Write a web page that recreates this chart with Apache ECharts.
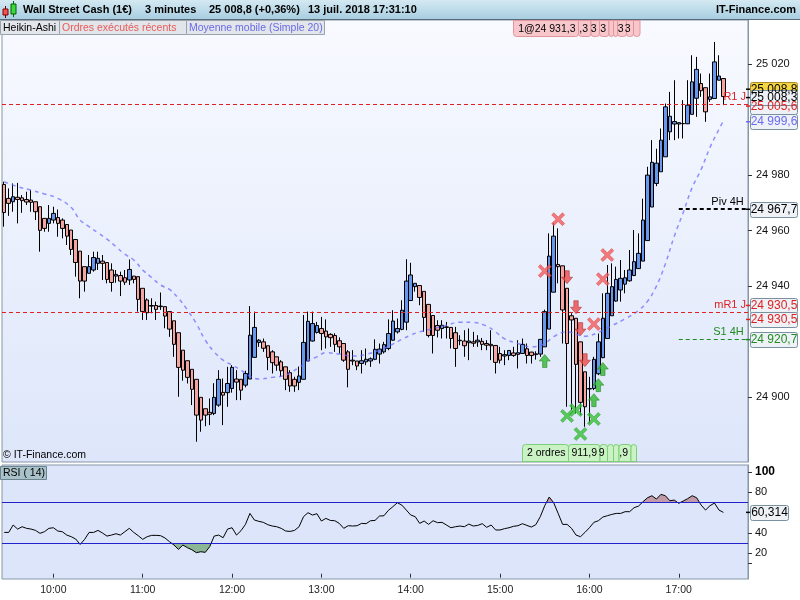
<!DOCTYPE html>
<html>
<head>
<meta charset="utf-8">
<script src="https://cdn.jsdelivr.net/npm/echarts@6/dist/echarts.min.js"></script>
<style>
html,body{margin:0;padding:0;background:#fff}
#chart{width:800px;height:600px}
</style>
</head>
<body>
<div id="chart"></div>
<script>
// 3 minute bars, 09:27 -> 17:45 (last 5 slots empty)
var times = [
'09:27','09:30','09:33','09:36','09:39','09:42','09:45','09:48','09:51','09:54','09:57',
'10:00','10:03','10:06','10:09','10:12','10:15','10:18','10:21','10:24','10:27','10:30','10:33','10:36','10:39','10:42','10:45','10:48','10:51','10:54','10:57',
'11:00','11:03','11:06','11:09','11:12','11:15','11:18','11:21','11:24','11:27','11:30','11:33','11:36','11:39','11:42','11:45','11:48','11:51','11:54','11:57',
'12:00','12:03','12:06','12:09','12:12','12:15','12:18','12:21','12:24','12:27','12:30','12:33','12:36','12:39','12:42','12:45','12:48','12:51','12:54','12:57',
'13:00','13:03','13:06','13:09','13:12','13:15','13:18','13:21','13:24','13:27','13:30','13:33','13:36','13:39','13:42','13:45','13:48','13:51','13:54','13:57',
'14:00','14:03','14:06','14:09','14:12','14:15','14:18','14:21','14:24','14:27','14:30','14:33','14:36','14:39','14:42','14:45','14:48','14:51','14:54','14:57',
'15:00','15:03','15:06','15:09','15:12','15:15','15:18','15:21','15:24','15:27','15:30','15:33','15:36','15:39','15:42','15:45','15:48','15:51','15:54','15:57',
'16:00','16:03','16:06','16:09','16:12','16:15','16:18','16:21','16:24','16:27','16:30','16:33','16:36','16:39','16:42','16:45','16:48','16:51','16:54','16:57',
'17:00','17:03','17:06','17:09','17:12','17:15','17:18','17:21','17:24','17:27','17:30','17:33','17:36','17:39','17:42','17:45'
];

// heikin-ashi [open, close, low, high]
var candles = [
[24976.6,24966.5,24961.4,24977.6],[24971.6,24969.8,24965.3,24975.2],[24970.4,24972.2,24966.8,24977.0],[24972.0,24971.2,24962.6,24977.2],
[24971.8,24970.8,24966.4,24972.8],[24971.2,24970.3,24969.2,24974.0],[24971.0,24970.2,24966.8,24974.6],[24970.4,24966.8,24963.8,24970.4],
[24968.6,24960.1,24952.4,24968.6],[24964.4,24960.8,24959.6,24964.4],[24962.6,24964.4,24959.6,24969.2],[24963.8,24966.2,24962.6,24968.6],
[24964.7,24962.6,24957.8,24967.6],[24963.8,24960.8,24957.2,24964.4],[24962.2,24958.0,24954.8,24962.2],[24960.2,24953.2,24951.2,24960.2],
[24956.8,24948.5,24943.4,24956.8],[24952.6,24941.8,24935.6,24952.6],[24947.0,24941.8,24938.0,24947.0],[24944.6,24947.0,24944.6,24951.2],
[24945.8,24950.3,24945.2,24952.4],[24948.2,24950.0,24945.8,24952.4],[24949.0,24948.2,24942.2,24951.2],[24948.5,24942.4,24941.0,24948.5],
[24945.8,24941.3,24938.0,24948.2],[24943.6,24944.2,24941.2,24945.8],[24943.8,24941.8,24936.4,24945.2],[24943.0,24941.4,24940.4,24945.8],
[24942.2,24946.0,24940.4,24949.6],[24943.6,24942.4,24941.0,24943.6],[24943.4,24935.2,24930.8,24943.4],[24939.2,24930.8,24927.8,24939.2],
[24935.0,24930.4,24927.8,24935.6],[24933.0,24932.8,24930.2,24935.6],[24933.0,24931.6,24927.8,24934.4],[24932.6,24932.8,24931.4,24937.7],
[24932.6,24929.2,24924.8,24932.6],[24930.8,24924.5,24921.7,24930.8],[24927.5,24919.0,24914.5,24927.5],[24923.2,24910.7,24900.1,24923.2],
[24916.9,24909.7,24905.9,24916.9],[24913.1,24907.1,24904.9,24913.1],[24910.0,24902.8,24897.1,24910.0],[24906.4,24893.5,24883.9,24906.4],
[24899.9,24891.7,24887.5,24899.9],[24895.8,24893.5,24889.5,24895.8],[24894.5,24893.8,24889.9,24899.5],[24894.1,24899.9,24893.5,24905.0],
[24897.1,24906.4,24896.5,24909.7],[24901.7,24900.7,24889.9,24906.7],[24901.6,24904.9,24896.5,24910.9],[24903.1,24910.7,24901.6,24911.5],
[24906.5,24905.4,24898.9,24909.7],[24906.4,24902.5,24898.9,24906.4],[24904.3,24908.5,24903.5,24909.5],[24906.5,24922.3,24906.5,24932.8],
[24914.3,24925.1,24914.3,24930.8],[24919.7,24920.5,24918.1,24920.9],[24919.9,24917.6,24916.3,24921.1],[24918.5,24914.3,24909.7,24918.5],
[24916.3,24912.4,24908.5,24916.9],[24914.5,24911.5,24909.5,24914.5],[24912.7,24909.5,24907.3,24913.3],[24910.9,24906.4,24902.5,24910.9],
[24908.8,24904.0,24901.9,24909.7],[24906.4,24904.0,24901.9,24907.3],[24905.3,24907.6,24902.5,24911.0],[24906.4,24919.7,24906.4,24929.6],
[24913.0,24927.3,24913.0,24930.8],[24920.2,24926.5,24920.0,24930.8],[24923.3,24925.8,24922.9,24927.1],[24924.7,24922.9,24916.9,24928.9],
[24923.8,24921.7,24917.5,24928.0],[24922.6,24921.4,24918.1,24923.0],[24922.2,24919.0,24916.3,24923.0],[24920.3,24918.1,24915.7,24921.5],
[24919.3,24913.3,24912.7,24919.3],[24916.3,24910.0,24903.5,24916.9],[24913.3,24913.0,24911.5,24916.9],[24913.0,24911.2,24909.7,24913.0],
[24912.1,24913.1,24908.5,24916.9],[24912.7,24913.6,24911.5,24917.5],[24913.0,24913.8,24910.9,24914.3],[24913.6,24917.2,24913.3,24920.8],
[24915.5,24917.3,24912.1,24919.3],[24916.3,24918.9,24915.7,24919.9],[24917.5,24922.9,24916.9,24928.0],[24920.5,24927.4,24920.3,24931.3],
[24923.5,24924.7,24922.9,24928.3],[24924.4,24931.3,24924.1,24934.9],[24927.0,24941.8,24924.1,24949.7],[24934.8,24944.0,24934.8,24948.4],
[24939.8,24941.0,24938.0,24941.0],[24940.2,24935.9,24933.1,24940.2],[24938.1,24928.7,24923.5,24938.1],[24933.4,24922.2,24921.5,24933.4],
[24929.4,24922.2,24915.7,24929.4],[24925.8,24924.1,24921.5,24927.7],[24924.7,24925.9,24921.1,24927.7],[24925.3,24925.1,24921.1,24927.1],
[24925.1,24921.1,24917.5,24925.1],[24923.2,24917.5,24910.9,24925.3],[24920.5,24920.3,24918.7,24922.3],[24920.2,24918.5,24914.5,24924.1],
[24919.6,24920.2,24913.3,24924.7],[24919.9,24919.4,24918.1,24923.5],[24919.9,24920.5,24918.1,24922.3],[24920.1,24919.0,24916.9,24921.3],
[24919.3,24918.7,24916.9,24920.5],[24919.0,24918.5,24913.3,24924.1],[24918.6,24912.5,24908.5,24918.6],[24915.7,24913.3,24912.1,24918.1],
[24914.8,24915.3,24911.5,24916.9],[24915.0,24916.8,24913.3,24916.9],[24915.9,24915.0,24914.5,24918.1],[24915.4,24916.0,24910.3,24920.5],
[24915.7,24919.0,24915.7,24921.1],[24917.4,24915.0,24912.1,24919.3],[24916.2,24915.0,24912.1,24916.3],[24915.6,24915.3,24913.5,24916.5],
[24915.5,24920.8,24914.5,24920.8],[24918.1,24930.8,24918.1,24931.5],[24924.5,24950.8,24924.5,24959.0],[24937.8,24958.0,24937.8,24962.8],
[24947.8,24947.0,24941.0,24960.8],[24947.3,24931.4,24919.3,24947.3],[24939.2,24919.3,24896.5,24939.2],[24929.3,24927.8,24895.3,24930.2],
[24928.4,24911.8,24894.1,24928.4],[24919.9,24898.1,24893.5,24919.9],[24909.1,24896.5,24889.3,24909.1],[24903.1,24902.9,24890.5,24907.3],
[24903.1,24913.6,24902.5,24914.5],[24908.4,24919.9,24907.9,24922.9],[24914.2,24928.4,24914.0,24937.4],[24921.1,24937.4,24921.1,24947.6],
[24929.3,24939.8,24929.3,24948.2],[24934.6,24942.4,24934.4,24947.0],[24938.6,24942.8,24934.4,24949.4],[24940.7,24943.0,24937.4,24945.8],
[24941.9,24945.8,24941.6,24953.0],[24943.8,24948.8,24943.6,24960.2],[24946.3,24951.8,24946.3,24959.0],[24949.0,24963.8,24949.0,24971.5],
[24956.4,24980.0,24956.4,24983.0],[24968.5,24984.6,24968.5,24992.6],[24977.0,24984.3,24976.0,24989.5],[24981.2,24992.6,24981.2,24996.8],
[24986.6,25004.6,24986.6,25005.8],[24995.6,25001.2,24992.6,25010.0],[24998.4,24999.3,24992.6,25014.2],[24998.4,24998.9,24993.2,24999.0],
[24998.6,24998.5,24993.2,25007.0],[24998.5,25005.2,24998.4,25014.2],[25001.9,25013.6,25001.9,25023.2],[25007.7,25018.1,25001.0,25022.6],
[25013.0,25010.4,25008.2,25016.6],[25011.5,25002.8,24999.2,25011.5],[25007.3,25008.2,25006.4,25016.6],[25007.6,25020.8,25007.6,25028.0],
[25014.2,25015.7,25014.2,25023.2],[25014.8,25008.3,25005.2,25014.8]
];

// moving average (simple 20), read at these bar positions
var maIdx = [0,3,6,9,12,15,17,19,21,23,25,27,29,31,33,35,37,39,41,43,45,47,49,51,53,55,57,60,63,66,68,70,72,75,78,81,84,87,89,91,93,96,99,102,105,108,110,112,115,118,121,123,126,130,133,136,139,142,144,146,148,150,152,154,156,158,160,161];
var maVal = [24977.6,24975.8,24974.6,24973.2,24971.6,24968.3,24963.8,24961.4,24959.2,24956.9,24954.2,24951.5,24949.4,24945.8,24943.1,24940.4,24938.8,24935.6,24931.4,24926.5,24920.5,24916.3,24913.3,24911.5,24909.7,24907.5,24906.5,24907.1,24907.9,24910.7,24913.1,24914.5,24916.0,24915.5,24914.8,24915.4,24916.9,24919.1,24920.8,24922.3,24923.5,24924.7,24925.9,24927.0,24926.9,24925.6,24923.5,24921.0,24919.3,24918.1,24919.3,24921.8,24923.5,24921.9,24923.3,24925.7,24928.2,24931.2,24934.5,24940.0,24948.0,24958.0,24966.5,24975.5,24982.0,24990.0,24996.5,24999.6];

// RSI (14), one value per bar
var rsi = [
40.6,40.6,47.9,43.9,46.2,44.6,43.9,42.6,39.7,41.3,44.6,45.2,42.0,41.3,38.0,36.4,34.1,28.8,33.8,40.6,
40.6,42.6,40.0,37.0,38.0,39.3,38.0,41.3,44.6,40.6,37.4,33.8,36.4,37.7,37.7,37.4,35.1,31.5,28.2,23.9,
28.2,25.6,23.6,20.7,21.6,21.0,26.6,37.0,38.0,35.4,43.9,45.2,38.0,42.3,48.5,59.3,52.8,51.5,50.5,48.2,
46.9,46.2,44.6,42.0,41.6,42.6,46.2,56.1,60.0,57.7,59.0,51.8,54.4,52.4,52.1,49.5,44.6,47.2,46.9,47.2,
49.5,49.2,52.1,52.4,56.7,57.0,62.3,65.9,69.8,67.5,62.6,57.7,56.1,49.5,51.8,48.5,52.1,50.2,50.5,47.9,
45.2,46.2,46.9,46.2,48.8,46.9,47.5,49.2,45.6,47.9,43.0,43.0,44.3,45.2,46.6,47.2,49.2,47.5,45.9,48.2,
56.1,66.9,75.4,69.8,59.3,48.5,48.5,44.6,38.0,36.4,40.6,45.2,50.5,52.1,55.7,57.0,58.3,59.3,59.3,61.0,
61.0,64.9,66.5,70.8,74.7,76.7,73.4,78.0,76.7,71.8,72.4,69.2,71.5,73.8,76.7,74.7,67.5,62.6,66.9,69.5,
62.6,60.3
];

// executed orders
var redCrossIdx = [121,124,132,134,135];
var redCrossPrice = [24945.4,24964.1,24926.3,24942.5,24951.2];
var greenCrossIdx = [126,128,129,132];
var greenCrossPrice = [24893.2,24895.3,24886.7,24892.1];
var sellArrowIdx = [126,128,129,130];
var sellArrowPrice = [24943.2,24932.4,24924.5,24913.3];
var buyArrowIdx = [121,132,133,134];
var buyArrowPrice = [24913.0,24898.9,24904.3,24910.1];

// levels
var levelNames = ['R1 J','mR1 J','Piv 4H','S1 4H'];
var levelValues = [25005.6,24930.5,24967.7,24920.7];
var levelColors = ['#e02020','#e02020','#000000','#1f8a1f'];
var levelStart = 151;

var priceTicks = [24900,24940,24960,24980,25020];
var rsiTickValues = [10,20,40,60,80,100];
var rsiLabelValues = [20,40,80,100];
var rsiBands = [30,70];
var lastPrice = 25008.8;
var lastHa = 25008.3;
var lastMa = 24999.6;
var lastRsi = 60.314;

var FONT = 'Liberation Sans, Arial, sans-serif';

function fmtPrice(v, dec) {
    var s = v.toFixed(dec).split('.');
    var ip = s[0].replace(/\B(?=(\d{3})+(?!\d))/g, ' ');
    return s.length > 1 ? ip + ',' + s[1] : ip;
}
function pairs(idx, vals) {
    return idx.map(function (k, j) { return [k, vals[j]]; });
}

var xSymbol = 'path://M0,2 L2,0 L6,4 L10,0 L12,2 L8,6 L12,10 L10,12 L6,8 L2,12 L0,10 L4,6 Z';
var downSymbol = 'path://M3,0 L7,0 L7,6 L10,6 L5,12 L0,6 L3,6 Z';
var upSymbol = 'path://M3,12 L7,12 L7,6 L10,6 L5,0 L0,6 L3,6 Z';

var levelLines = [];
for (var k = 0; k < levelNames.length; k++) {
    var ls = {color: levelColors[k], type: [4, 3], width: levelNames[k] == 'Piv 4H' ? 2 : 1};
    var lb = {show: true, position: 'insideEndTop', formatter: levelNames[k], color: levelColors[k],
        fontFamily: FONT, fontSize: 11, distance: 2};
    if (levelNames[k].indexOf('J') > 0) {
        levelLines.push({yAxis: levelValues[k], lineStyle: ls, label: lb});
    } else {
        levelLines.push([{coord: [levelStart, levelValues[k]], lineStyle: ls, label: lb},
            {coord: [times.length - 1, levelValues[k]]}]);
    }
}

var chart = echarts.init(document.getElementById('chart'));
chart.setOption({
    animation: false,
    textStyle: {fontFamily: FONT},
    grid: [
        {left: 2, right: 52, top: 20, height: 442, show: true, borderColor: '#8797a5', borderWidth: 1,
            backgroundColor: new echarts.graphic.LinearGradient(0, 0, 0, 1, [
                {offset: 0, color: '#f8faff'}, {offset: 1, color: '#dde6fa'}])},
        {left: 2, right: 52, top: 465, height: 114, show: true, borderColor: '#8797a5', borderWidth: 1,
            backgroundColor: '#dce5f9'}
    ],
    xAxis: [
        {type: 'category', gridIndex: 0, data: times, show: false},
        {type: 'category', gridIndex: 1, data: times,
            axisLine: {show: false},
            axisTick: {show: true, alignWithLabel: true, length: 4, lineStyle: {color: '#333'},
                interval: function (i, v) { return v.slice(3) == '00'; }},
            axisLabel: {color: '#222', fontSize: 10.5, margin: 6, fontFamily: FONT,
                interval: function (i, v) { return v.slice(3) == '00'; }},
            splitLine: {show: false}}
    ],
    yAxis: [
        {type: 'value', gridIndex: 0, position: 'right', min: 24876.6, max: 25035.9,
            axisLine: {show: true, lineStyle: {color: '#8797a5'}},
            axisTick: {show: true, length: 4, customValues: priceTicks, lineStyle: {color: '#333'}},
            axisLabel: {customValues: priceTicks, color: '#111', fontSize: 11, margin: 8, fontFamily: FONT,
                formatter: function (v) { return fmtPrice(v, 0); }},
            splitLine: {show: false}},
        {type: 'value', gridIndex: 1, position: 'right', min: -5.2, max: 106.9,
            axisLine: {show: true, lineStyle: {color: '#8797a5'}},
            axisTick: {show: true, length: 4, customValues: rsiTickValues, lineStyle: {color: '#333'}},
            axisLabel: {customValues: rsiLabelValues, color: '#111', fontSize: 11, margin: 7, fontFamily: FONT,
                formatter: function (v) { return v == 100 ? '{b|100}' : String(v); },
                rich: {b: {fontWeight: 'bold', fontSize: 12, fontFamily: FONT, color: '#000'}}},
            splitLine: {show: false}}
    ],
    series: [
        {type: 'candlestick', xAxisIndex: 0, yAxisIndex: 0, data: candles, barWidth: 4,
            itemStyle: {color: '#6898ee', color0: '#f5a5a1', borderColor: '#000', borderColor0: '#000',
                borderColorDoji: '#000', borderWidth: 1},
            markLine: {silent: true, symbol: ['none', 'none'], data: levelLines}},
        {type: 'line', xAxisIndex: 0, yAxisIndex: 0, data: pairs(maIdx, maVal), smooth: 0.4,
            symbol: 'none', lineStyle: {color: 'rgba(110,110,255,0.75)', width: 1.5, type: [4, 4]}, z: 3},
        {type: 'scatter', xAxisIndex: 0, yAxisIndex: 0, data: pairs(redCrossIdx, redCrossPrice),
            symbol: xSymbol, symbolSize: 13, itemStyle: {color: '#f25a5a', borderColor: '#d84040', borderWidth: 0.6}, z: 5},
        {type: 'scatter', xAxisIndex: 0, yAxisIndex: 0, data: pairs(greenCrossIdx, greenCrossPrice),
            symbol: xSymbol, symbolSize: 13, itemStyle: {color: '#36c236', borderColor: '#239623', borderWidth: 0.6}, z: 5},
        {type: 'scatter', xAxisIndex: 0, yAxisIndex: 0, data: pairs(sellArrowIdx, sellArrowPrice),
            symbol: downSymbol, symbolSize: [11, 13], itemStyle: {color: '#ec4a4a', borderColor: '#a02020', borderWidth: 0.6}, z: 5},
        {type: 'scatter', xAxisIndex: 0, yAxisIndex: 0, data: pairs(buyArrowIdx, buyArrowPrice),
            symbol: upSymbol, symbolSize: [11, 13], itemStyle: {color: '#2fb82f', borderColor: '#1a7a1a', borderWidth: 0.6}, z: 5},
        {type: 'line', xAxisIndex: 1, yAxisIndex: 1, data: rsi, symbol: 'none', silent: true,
            lineStyle: {width: 0, opacity: 0}, areaStyle: {origin: rsiBands[0], opacity: 1, color: 'rgba(0,0,0,0)'}},
        {type: 'line', xAxisIndex: 1, yAxisIndex: 1, data: rsi, symbol: 'none', silent: true,
            lineStyle: {width: 0, opacity: 0}, areaStyle: {origin: rsiBands[1], opacity: 1, color: 'rgba(0,0,0,0)'}},
        {type: 'line', xAxisIndex: 1, yAxisIndex: 1, data: rsi, symbol: 'none', z: 4,
            lineStyle: {color: '#000', width: 1},
            markLine: {silent: true, symbol: ['none', 'none'], label: {show: false},
                lineStyle: {color: '#2222cc', type: 'solid', width: 1},
                data: [{yAxis: rsiBands[0]}, {yAxis: rsiBands[1]}]}}
    ]
});

// RSI zones: fill only the part beyond the 30 / 70 bands
var y30 = chart.convertToPixel({yAxisIndex: 1}, rsiBands[0]);
var y70 = chart.convertToPixel({yAxisIndex: 1}, rsiBands[1]);
var lowFill = new echarts.graphic.LinearGradient(0, y30, 0, y30 + 0.5, [
    {offset: 0, color: 'rgba(0,0,0,0)'}, {offset: 1, color: '#8db697'}], true);
var highFill = new echarts.graphic.LinearGradient(0, y70 - 0.5, 0, y70, [
    {offset: 0, color: '#c29ba8'}, {offset: 1, color: 'rgba(0,0,0,0)'}], true);

// overlay: header, tabs, order tags and price boxes
function rect(x, y, w, h, fill, stroke, r, z) {
    return {type: 'rect', shape: {x: x, y: y, width: w, height: h, r: r || 0}, z: z || 10,
        style: {fill: fill, stroke: stroke, lineWidth: 1}};
}
function text(x, y, s, color, font, align, z) {
    return {type: 'text', x: x, y: y, z: z || 11,
        style: {text: s, fill: color, font: font, align: align || 'left', textAlign: align || 'left',
            verticalAlign: 'middle', textVerticalAlign: 'middle'}};
}

var g = [];
g.push({type: 'rect', shape: {x: 0, y: 0, width: 800, height: 20}, z: 10,
    style: {fill: new echarts.graphic.LinearGradient(0, 0, 0, 1, [
        {offset: 0, color: '#d4e9f2'}, {offset: 1, color: '#a6cde0'}])}});
g.push({type: 'line', shape: {x1: 0, y1: 19.5, x2: 800, y2: 19.5}, z: 11, style: {stroke: '#5a6a78', lineWidth: 1}});
g.push({type: 'line', shape: {x1: 5.5, y1: 6, x2: 5.5, y2: 18}, z: 11, style: {stroke: '#600', lineWidth: 1}});
g.push(rect(3, 9, 5, 6, '#ee5555', '#800000', 0, 12));
g.push({type: 'line', shape: {x1: 13.5, y1: 1, x2: 13.5, y2: 17}, z: 11, style: {stroke: '#060', lineWidth: 1}});
g.push(rect(11, 4, 5, 10, '#3ed83e', '#006000', 0, 12));
var hb = 'bold 11px ' + FONT;
g.push(text(23, 10, 'Wall Street Cash (1\u20ac)', '#000', hb));
g.push(text(145, 10, '3 minutes', '#000', hb));
g.push(text(209, 10, fmtPrice(lastPrice, 1) + ' (+0,36%)', '#000', hb));
g.push(text(308, 10, '13 juil. 2018 17:31:10', '#000', hb));
g.push(text(796, 10, 'IT-Finance.com', '#000', hb, 'right'));

var tf = '10.5px ' + FONT;
g.push(rect(0.5, 20.5, 59, 14, '#e2e5e9', '#9aa4ad'));
g.push(text(3, 28, 'Heikin-Ashi', '#000', tf));
g.push(rect(59.5, 20.5, 127, 14, '#e2e5e9', '#9aa4ad'));
g.push(text(62, 28, 'Ordres ex\u00e9cut\u00e9s r\u00e9cents', '#e85a5a', tf));
g.push(rect(186.5, 20.5, 138, 14, '#e2e5e9', '#9aa4ad'));
g.push(text(189, 28, 'Moyenne mobile (Simple 20)', '#6a6ae8', tf));

// stacked order tags
var topEdges = [513.5, 578.5, 591, 599.5, 609, 613.5, 617.5, 626.5, 633.5, 640];
var topTexts = ['1@24 931,3', ',3', '3', '3', '', '', '3', '3', ''];
for (var t = 0; t < topTexts.length; t++) {
    g.push(rect(topEdges[t], 20.5, topEdges[t + 1] - topEdges[t], 16, '#f7c7cc', '#e2959d', [0, 0, 3, 3]));
    if (topTexts[t]) g.push(text(topEdges[t + 1] - 3, 29, topTexts[t], '#000', tf, 'right'));
}
var botEdges = [522.5, 568.5, 600, 607.5, 613.5, 619, 631, 636.5];
var botTexts = ['2 ordres', '911,9', '9', '', '', ',9', ''];
for (var t = 0; t < botTexts.length; t++) {
    g.push(rect(botEdges[t], 444.5, botEdges[t + 1] - botEdges[t], 17, '#caf2c5', '#7ccf77', [3, 3, 0, 0]));
    if (botTexts[t]) g.push(text(botEdges[t + 1] - 3, 453, botTexts[t], '#000', tf, 'right'));
}
g.push(text(3, 455, '\u00a9 IT-Finance.com', '#000', tf));

g.push(rect(0.5, 466.5, 46, 13, '#a9c1c9', '#6d8590'));
g.push(text(3, 473, 'RSI ( 14)', '#000', tf));

function priceBox(y, label, color, fill, stroke, w) {
    w = w || 47;
    g.push({type: 'line', shape: {x1: 746, y1: y, x2: 751, y2: y}, z: 12, style: {stroke: color, lineWidth: 1.5}});
    g.push(rect(750.5, Math.round(y - 7.5) + 0.5, w, 15, fill, stroke || '#7890a0', 2, 12));
    g.push(text(750.5 + w / 2, Math.round(y - 7.5) + 8, label, color, '12px ' + FONT, 'center', 13));
}
function py(v) { return chart.convertToPixel({yAxisIndex: 0}, v); }

priceBox(py(lastPrice) - 6, fmtPrice(lastPrice, 1), '#000', '#f6d543', '#a88c2a');
priceBox(py(levelValues[0]) + 2, fmtPrice(levelValues[0], 1), '#e02020', '#eef2f7');
priceBox(py(lastHa) + 1, fmtPrice(lastHa, 1), '#000', '#eef2f7');
priceBox(py(lastMa) + 1, fmtPrice(lastMa, 1), '#6a6af0', '#eef2f7');
priceBox(py(levelValues[2]), fmtPrice(levelValues[2], 1), '#000', '#eef2f7');
priceBox(py(levelValues[1]) - 7, fmtPrice(levelValues[1], 1), '#e02020', '#eef2f7');
priceBox(py(levelValues[1]) + 7, fmtPrice(levelValues[1], 1), '#e02020', '#eef2f7');
priceBox(py(levelValues[3]), fmtPrice(levelValues[3], 1), '#1f8a1f', '#eef2f7');
priceBox(chart.convertToPixel({yAxisIndex: 1}, lastRsi), lastRsi.toFixed(3).replace('.', ','), '#000', '#eef2f7', '#7890a0', 38);

chart.setOption({
    series: [{}, {}, {}, {}, {}, {},
        {areaStyle: {color: lowFill}},
        {areaStyle: {color: highFill}}],
    graphic: {elements: g}
});
</script>
</body>
</html>
